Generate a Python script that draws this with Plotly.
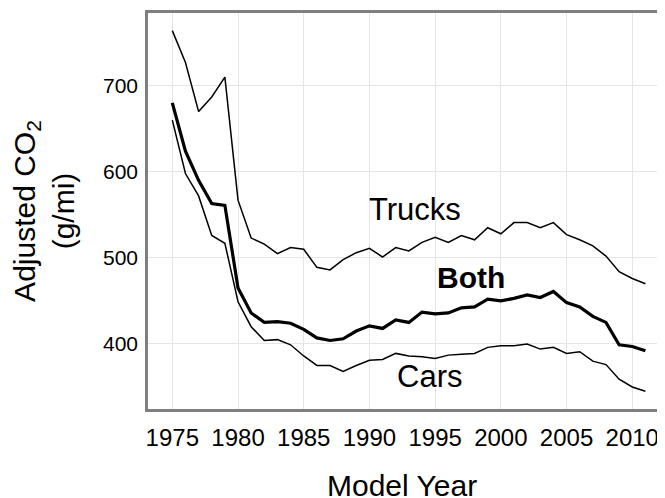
import plotly.graph_objects as go

years = list(range(1975, 2012))

trucks = [764, 727, 670, 687, 710, 567, 523, 516, 505, 512,
          510, 489, 486, 498, 506, 511, 501, 512, 508, 518,
          524, 518, 526, 521, 535, 528, 541, 541, 535, 541,
          527, 521, 514, 502, 484, 476, 470]

both = [680, 624, 590, 563, 561, 465, 436, 425, 426, 424,
        417, 407, 404, 406, 415, 421, 418, 428, 425, 437,
        435, 436, 442, 443, 452, 450, 453, 457, 454, 461,
        448, 443, 432, 425, 399, 397, 392]

cars = [660, 598, 572, 526, 517, 449, 420, 404, 405, 399,
        386, 375, 375, 368, 375, 381, 382, 389, 386, 385,
        383, 387, 388, 389, 396, 398, 398, 400, 394, 396,
        389, 391, 380, 376, 359, 350, 345]

x_ticks = [1975, 1980, 1985, 1990, 1995, 2000, 2005, 2010]
y_ticks = [400, 500, 600, 700]

FONT = "Liberation Sans, Arial, sans-serif"

fig = go.Figure()
fig.add_trace(go.Scatter(x=years, y=trucks, mode="lines",
                         line=dict(color="black", width=1.5), name="Trucks"))
fig.add_trace(go.Scatter(x=years, y=cars, mode="lines",
                         line=dict(color="black", width=1.5), name="Cars"))
fig.add_trace(go.Scatter(x=years, y=both, mode="lines",
                         line=dict(color="black", width=3.2), name="Both"))

fig.add_annotation(x=1993.5, y=556, text="Trucks", showarrow=False,
                   font=dict(family=FONT, size=31, color="black"))
fig.add_annotation(x=1997.7, y=477, text="<b>Both</b>", showarrow=False,
                   font=dict(family=FONT, size=30, color="black"))
fig.add_annotation(x=1994.6, y=362, text="Cars", showarrow=False,
                   font=dict(family=FONT, size=31, color="black"))

# x-axis title
fig.add_annotation(xref="paper", yref="paper", x=0.484, y=-0.192,
                   xanchor="center", yanchor="middle", showarrow=False,
                   text="Model Year",
                   font=dict(family=FONT, size=30, color="black"))

fig.update_layout(
    width=665, height=498,
    margin=dict(l=140, r=0, t=5, b=97, autoexpand=False),
    paper_bgcolor="white", plot_bgcolor="white",
    showlegend=False,
    font=dict(family=FONT, color="black"),
)
fig.update_xaxes(
    range=[1973.15, 2013.1], tickvals=x_ticks, automargin=False,
    tickfont=dict(size=24, color="black"),
    showgrid=True, gridcolor="#E5E5E5", gridwidth=1.3,
    showline=True, linecolor="#7F7F7F", linewidth=2.5, mirror=True,
    zeroline=False, ticks="", ticklabelstandoff=5,
)
fig.update_yaxes(
    range=[324.4, 784.5], tickvals=y_ticks, automargin=False,
    tickfont=dict(size=21, color="black"),
    showgrid=True, gridcolor="#E5E5E5", gridwidth=1.3,
    showline=True, linecolor="#7F7F7F", linewidth=2.5, mirror=True,
    zeroline=False, ticks="", ticklabelstandoff=3,
    title=dict(text="Adjusted CO<sub>2</sub><br>(g/mi)",
               font=dict(size=30, color="black"), standoff=21),
)

fig.write_html("out.html")
